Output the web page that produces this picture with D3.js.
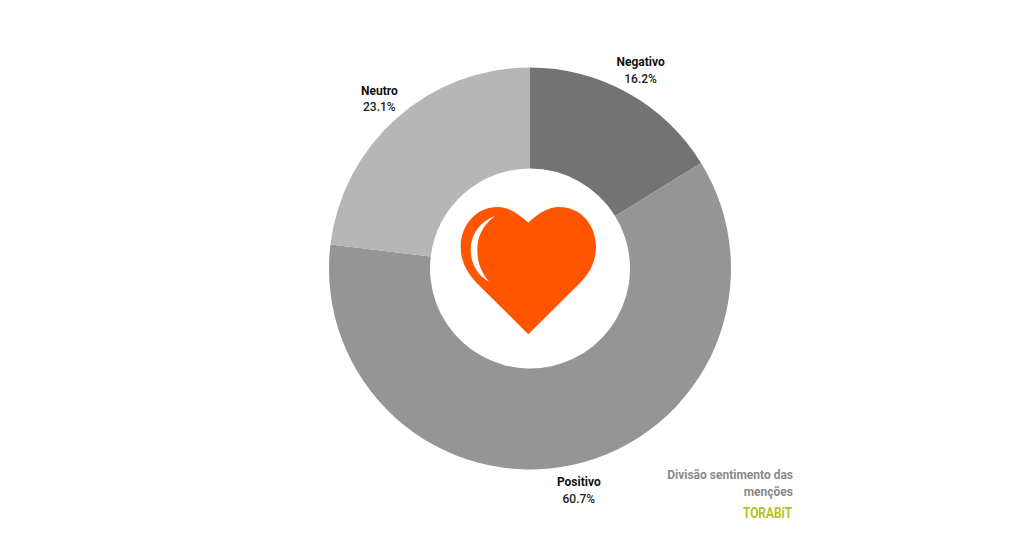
<!DOCTYPE html>
<html><head><meta charset="utf-8">
<script src="https://cdn.jsdelivr.net/npm/d3@7"></script>
<style>html,body{margin:0;background:#fff}svg{display:block}text{font-family:Roboto,sans-serif}</style>
</head><body><svg id="c" width="1024" height="537"></svg>
<script>
const categories = ["Negativo","Positivo","Neutro"];
const values = [16.2,60.7,23.1];
const colors = ["#737373","#959595","#b6b6b6"];
const titleLines = ["Divisão sentimento das","menções"];
const brand = "TORABiT";

const svg = d3.select("#c");
const cx=530, cy=268.5, R=201, r=100;
const pie = d3.pie().sort(null)(values);
const arc = d3.arc().innerRadius(r).outerRadius(R);
const g = svg.append("g").attr("transform",`translate(${cx},${cy})`);
g.selectAll("path").data(pie).join("path").attr("d",arc).attr("fill",(d,i)=>colors[i]);

const labelPos = d3.arc().innerRadius(227).outerRadius(227);
const labels = g.selectAll("g.l").data(pie).join("g").attr("class","l")
  .attr("transform",d=>{const [x,y]=labelPos.centroid(d);return `translate(${x},${y})`;});
labels.append("text").attr("text-anchor","middle").attr("y",-4)
  .attr("font-size",12).attr("font-weight",700).attr("fill","#111")
  .text((d,i)=>categories[i]);
labels.append("text").attr("text-anchor","middle").attr("y",12.5)
  .attr("font-size",12).attr("font-weight",500).attr("fill","#222")
  .text((d,i)=>d3.format(".1f")(values[i])+"%");

// centre icon
svg.append("path").attr("fill","#ff5500")
  .attr("d","M528.3,222.7 C518,213 508,207 498,207 C476,207 460.7,225 460.7,247 C460.7,261 467,273 476.7,283 L528.3,334.3 L580,283 C590,273 596,261 596,247 C596,225 581,207 559,207 C549,207 538,213 528.3,222.7 Z");
svg.append("path").attr("fill","#fff")
  .attr("d","M495,216 C479,222 470.7,235 470.7,250 C470.7,264 478,276 489,281.7 C481,272 477.3,262 477.3,250 C477.3,236 483,225 495,216 Z");

// note and brand
svg.append("g").selectAll("text").data(titleLines).join("text")
  .attr("x",793).attr("y",(d,i)=>479+i*17).attr("text-anchor","end")
  .attr("font-size",12).attr("font-weight",700).attr("fill","#8a8a8a").text(d=>d);
svg.append("text").attr("x",792).attr("y",518).attr("text-anchor","end")
  .attr("font-size",14.5).attr("font-weight",700).attr("fill","#b5c21e")
  .attr("textLength",49).attr("lengthAdjust","spacingAndGlyphs").text(brand);
</script></body></html>
